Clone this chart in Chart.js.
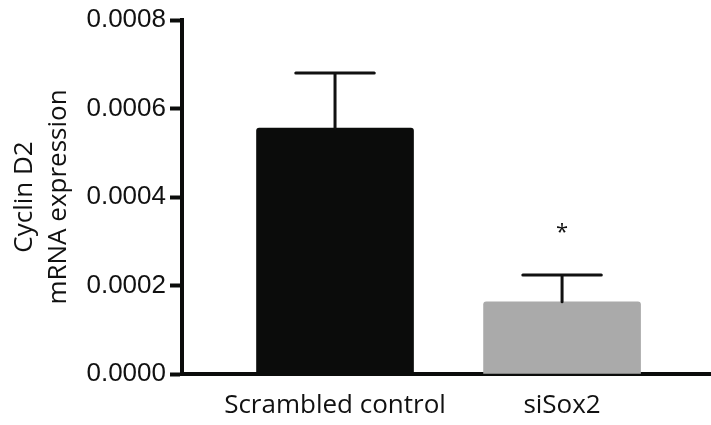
<!DOCTYPE html>
<html>
<head>
<meta charset="utf-8">
<script src="https://cdn.jsdelivr.net/npm/chart.js@4"></script>
<style>
html,body{margin:0;padding:0;background:#fff;}
#wrap{width:711px;height:425px;}
</style>
</head>
<body>
<div id="wrap"><canvas id="c" width="711" height="425"></canvas></div>
<script>
const categories = ['Scrambled control', 'siSox2'];
const means = [0.000556, 0.000163];
const sems = [0.000124, 0.000061];
const significance = ['', '*'];
const yTicks = [0, 0.0002, 0.0004, 0.0006, 0.0008];
const barColors = ['#0b0c0b', '#aaaaaa'];
const yTitle = ['Cyclin D2', 'mRNA expression'];

const humanist = "'Open Sans', 'Noto Sans', sans-serif";
const axisColor = '#0b0c0b';

const errorBarPlugin = {
  id: 'errorBars',
  afterDatasetsDraw(chart) {
    const ctx = chart.ctx;
    const meta = chart.getDatasetMeta(0);
    const ys = chart.scales.y;
    ctx.save();
    ctx.strokeStyle = '#111';
    ctx.lineWidth = 3;
    ctx.lineCap = 'round';
    meta.data.forEach((bar, i) => {
      const top = ys.getPixelForValue(means[i] + sems[i]);
      const base = ys.getPixelForValue(means[i]);
      const half = bar.width / 4;
      ctx.beginPath();
      ctx.moveTo(bar.x, base);
      ctx.lineTo(bar.x, top);
      ctx.moveTo(bar.x - half, top);
      ctx.lineTo(bar.x + half, top);
      ctx.stroke();
      if (significance[i]) {
        ctx.fillStyle = '#111';
        ctx.font = "22px " + humanist;
        ctx.textAlign = 'center';
        ctx.textBaseline = 'middle';
        ctx.fillText(significance[i], bar.x, top - 42);
      }
    });
    ctx.restore();
  }
};

new Chart(document.getElementById('c'), {
  type: 'bar',
  data: {
    datasets: [{
      data: categories.map((c, i) => ({ x: i, y: means[i] })),
      backgroundColor: barColors,
      borderWidth: 0,
      borderRadius: 3,
      borderSkipped: 'bottom',
      barThickness: 157
    }]
  },
  options: {
    responsive: false,
    devicePixelRatio: 1,
    animation: false,
    layout: { padding: { top: 20, right: 0, left: 0, bottom: 0 } },
    plugins: { legend: { display: false }, tooltip: { enabled: false } },
    scales: {
      x: {
        type: 'linear',
        offset: false,
        min: -0.674,
        max: 1.656,
        afterBuildTicks(scale) { scale.ticks = categories.map((c, i) => ({ value: i })); },
        afterFit(scale) { scale.height = 51; },
        ticks: {
          autoSkip: false,
          maxRotation: 0,
          padding: 16,
          color: '#111',
          font: { family: humanist, size: 26 },
          callback: (v) => categories[v]
        },
        grid: { display: true, drawOnChartArea: false, drawTicks: false },
        border: { display: true, width: 4, color: axisColor }
      },
      y: {
        min: 0,
        max: 0.0008,
        afterBuildTicks(scale) { scale.ticks = yTicks.map(v => ({ value: v })); },
        afterFit(scale) { scale.width = 182; },
        ticks: {
          padding: 4,
          color: '#111',
          font: { family: "'Liberation Sans', Arial, sans-serif", size: 26 },
          callback: (v) => v.toFixed(4)
        },
        grid: { drawOnChartArea: false, drawTicks: true, tickLength: 12, tickWidth: 4, tickColor: axisColor },
        border: { display: true, width: 4, color: axisColor },
        title: {
          display: true,
          text: yTitle,
          color: '#111',
          font: { family: humanist, size: 26, lineHeight: 1.3 },
          padding: { top: 8, bottom: 0 }
        }
      }
    }
  },
  plugins: [errorBarPlugin]
});
</script>
</body>
</html>
